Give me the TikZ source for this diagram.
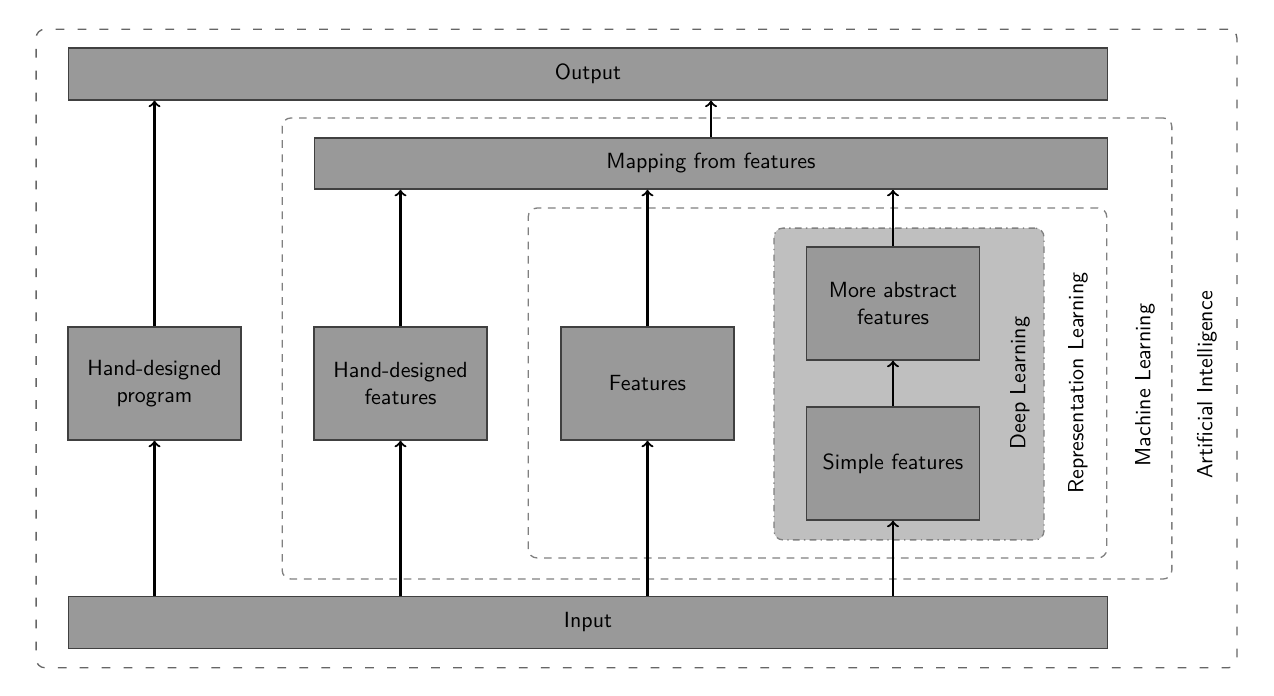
\documentclass[tikz,border=0pt]{standalone}
\usepackage{tikz}
\usetikzlibrary{calc}

\tikzset{
  block/.style={draw=black!75, fill=black!40, line width=0.6pt, font=\sffamily, align=center, inner sep=0pt},
  bigblock/.style={block, minimum width=16.64cm, minimum height=0.83cm},
  smallblock/.style={block, minimum width=2.77cm, minimum height=1.81cm, text width=2.6cm},
  area/.style={draw=black!50, dash pattern=on 3.5pt off 3pt, rounded corners=4pt, line width=0.6pt, inner sep=0pt},
  arealabel/.style={font=\sffamily, rotate=90},
  arr/.style={->, line width=1pt, black}
}

\begin{document}
\begin{tikzpicture}[x=0.016cm, y=-0.016cm]
		%%%%% START %%%%%
		
		\useasboundingbox (0, 0) rectangle (1274, 696);
		
		% nested areas
		\node[area, dash pattern=on 4pt off 6pt, draw=black!60, minimum width=19.22cm, minimum height=10.22cm] (ai) at (636.5, 348.5) {};
		\node[area, minimum width=14.24cm, minimum height=7.38cm] (ml) at (727, 348.5) {};
		\node[area, minimum width=9.26cm, minimum height=5.6cm] (rl) at (817.5, 383) {};
		\node[area, dash dot, fill=black!25, minimum width=4.32cm, minimum height=4.99cm] (dl) at (909, 384) {};
		
		\node[arealabel] (ailabel) at (1207, 385) {Artificial Intelligence};
		\node[arealabel] (mllabel) at (1145, 385) {Machine Learning};
		\node[arealabel] (rllabel) at (1078, 383) {Representation Learning};
		\node[arealabel] (dllabel) at (1020, 383) {Deep Learning};
		
		% blocks
		\node[bigblock] (out) at (588, 74) {Output};
		\node[bigblock] (in) at (588, 622.5) {Input};
		\node[block, minimum width=12.7cm, minimum height=0.82cm] (map) at (711, 163.5) {Mapping from features};
		
		\node[smallblock] (hdp) at (154.5, 383.5) {Hand-designed\\program};
		\node[smallblock] (hdf) at (400.5, 383.5) {Hand-designed\\features};
		\node[smallblock] (feat) at (647.5, 383.5) {Features};
		\node[smallblock] (abs) at (893, 303.5) {More abstract\\features};
		\node[smallblock] (simple) at (893, 463.5) {Simple features};
		
		% arrows
		\draw[arr] (in.north -| hdp) -- (hdp);
		\draw[arr] (hdp) -- (out.south -| hdp);
		
		\draw[arr] (in.north -| hdf) -- (hdf);
		\draw[arr] (hdf) -- (map.south -| hdf);
		
		\draw[arr] (in.north -| feat) -- (feat);
		\draw[arr] (feat) -- (map.south -| feat);
		
		\draw[arr] (in.north -| simple) -- (simple);
		\draw[arr] (simple) -- (abs);
		\draw[arr] (abs) -- (map.south -| abs);
		
		\draw[arr] (map) -- (out.south -| map);
		
		%%%%% END %%%%%
	\end{tikzpicture}
\end{document}
